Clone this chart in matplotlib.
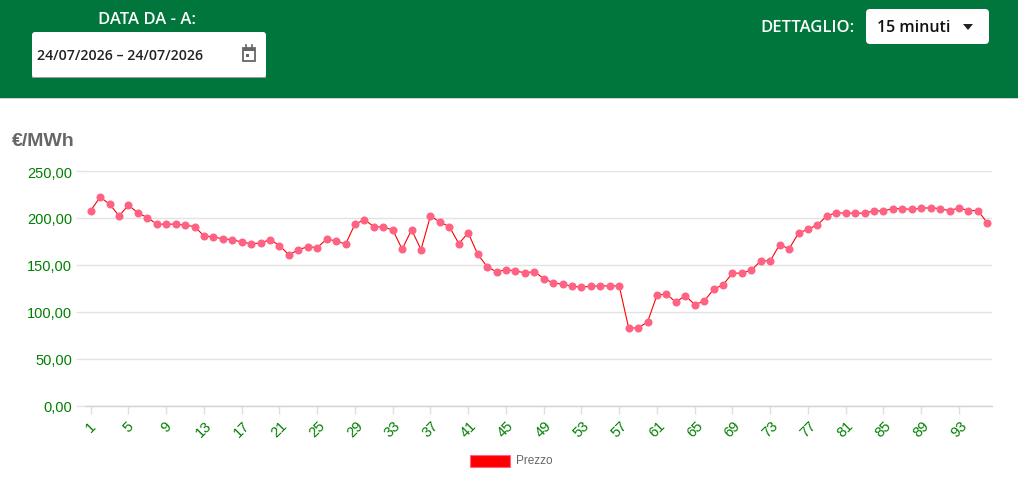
import matplotlib
matplotlib.use("Agg")
import matplotlib.pyplot as plt
from matplotlib.patches import Rectangle, FancyBboxPatch, Polygon

# ---- data ----
quarters = list(range(1, 97))
prezzo = [207.9, 222.2, 214.7, 202.2, 213.6, 205.4, 200.4, 193.4, 193.4, 193.4,
          192.3, 190.8, 180.9, 179.8, 177.7, 177.0, 174.2, 172.7, 173.1, 177.0,
          170.6, 160.7, 166.0, 169.5, 168.4, 177.4, 175.6, 172.0, 193.4, 198.0,
          190.8, 190.2, 187.3, 166.7, 187.3, 166.3, 202.2, 195.5, 190.8, 172.7,
          184.1, 161.4, 148.2, 142.5, 145.0, 143.6, 141.5, 142.9, 135.4, 130.8,
          129.4, 127.3, 126.2, 127.3, 127.6, 127.6, 127.6, 82.8, 82.8, 89.2,
          117.7, 119.1, 110.2, 117.3, 107.7, 111.3, 124.1, 128.7, 141.2, 141.2,
          144.3, 154.3, 154.3, 171.6, 167.1, 183.8, 188.0, 192.6, 202.2, 205.4,
          205.1, 205.1, 205.1, 207.6, 207.6, 210.0, 210.0, 209.0, 210.4, 210.8,
          210.0, 207.6, 210.8, 207.9, 207.9, 194.8]
x_ticks = list(range(1, 97, 4))
y_ticks = [0, 50, 100, 150, 200, 250]
y_labels = ["0,00", "50,00", "100,00", "150,00", "200,00", "250,00"]

W, H = 1018, 481
fig = plt.figure(figsize=(W / 100, H / 100), dpi=100)
fig.patch.set_facecolor("white")

# ---- overlay for header (pixel coordinates) ----
ov = fig.add_axes([0, 0, 1, 1])
ov.set_xlim(0, W)
ov.set_ylim(H, 0)
ov.axis("off")
GREEN = "#00763c"
ov.add_patch(Rectangle((0, 0), W, 99, color=GREEN, lw=0))
ov.add_patch(Rectangle((0, 99), W, 1.2, color="#d0d0d0", lw=0))

hfont = "Open Sans"
ov.text(147, 20, "DATA DA - A:", color="white", fontsize=12, ha="center", va="center",
        family=hfont, fontweight="semibold")
ov.add_patch(FancyBboxPatch((32, 33), 234, 46, boxstyle="round,pad=0,rounding_size=3",
                            fc="white", ec="none"))
ov.add_patch(Rectangle((32, 77.5), 234, 1.5, color="#9e9e9e", lw=0))
ov.text(37, 56, "24/07/2026 – 24/07/2026", color="#222222", fontsize=10.2, ha="left",
        va="center", family=hfont, fontweight="semibold")
# calendar icon
ov.add_patch(Rectangle((243, 49), 12, 13, fc="none", ec="#666666", lw=1.3))
ov.add_patch(Rectangle((243, 49), 12, 3, fc="#666666", ec="none"))
ov.add_patch(Rectangle((246, 55), 3, 3, fc="#666666", ec="none"))
ov.plot([246, 246], [46, 50], color="#666666", lw=1.2)
ov.plot([252, 252], [46, 50], color="#666666", lw=1.2)

ov.text(855, 28, "DETTAGLIO:", color="white", fontsize=12, ha="right", va="center",
        family=hfont, fontweight="semibold")
ov.add_patch(FancyBboxPatch((866, 10), 123, 35, boxstyle="round,pad=0,rounding_size=4",
                            fc="white", ec="none"))
ov.text(877, 28, "15 minuti", color="#111111", fontsize=11.5, ha="left", va="center",
        family=hfont, fontweight="semibold")
ov.add_patch(Polygon([[963, 25], [973, 25], [968, 31]], closed=True, fc="#222222", ec="none"))

# legend
ov.add_patch(Rectangle((470, 456), 40, 12, fc="red", ec="#ff6384", lw=0.8))
ov.text(516, 461.5, "Prezzo", color="#666666", fontsize=8.5, ha="left", va="center",
        family="Liberation Sans")

# y-axis title
ov.text(12, 142, "€/MWh", color="#666666", fontsize=14, fontweight="bold", ha="left",
        va="center", family="Liberation Sans")

# ---- chart axes ----
left, right = 86, 992
top, bottom = 172, 406.7
ax = fig.add_axes([left / W, (H - bottom) / H, (right - left) / W, (bottom - top) / H])
ax.set_facecolor("none")
ax.plot(quarters, prezzo, color="red", lw=0.8, zorder=3)
ax.plot(quarters, prezzo, ls="none", marker="o", ms=5.8, mfc="#ff6384", mec="#ff6384",
        mew=0, zorder=4)
ax.set_xlim(0.5, 96.5)
ax.set_ylim(0, 250)
ax.set_xticks(x_ticks)
ax.set_xticklabels([str(t) for t in x_ticks], rotation=45, ha="center", va="top",
                   color="green", fontsize=10.5, family="Liberation Sans")
ax.set_yticks(y_ticks)
ax.set_yticklabels(y_labels, color="green", fontsize=10.5, family="Liberation Sans")
ax.grid(axis="y", color="#e3e3e3", lw=1)
ax.set_axisbelow(True)
for s in ["top", "right", "left"]:
    ax.spines[s].set_visible(False)
ax.spines["bottom"].set_color("#d2d2d2")
ax.spines["bottom"].set_linewidth(1)
ax.tick_params(axis="x", length=6, width=1, color="#e0e0e0", pad=3)
ax.tick_params(axis="y", length=7, width=1, color="#e3e3e3", pad=3)

fig.savefig("out.png", dpi=100, facecolor="white")
